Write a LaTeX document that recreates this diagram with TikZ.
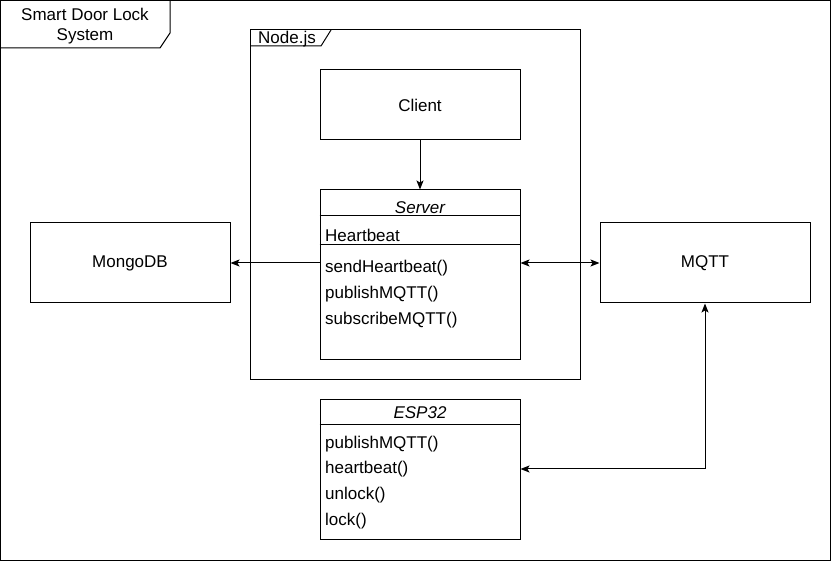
\documentclass[tikz,border=0pt]{standalone}
\usepackage{fontspec}
\setmainfont{Liberation Sans}
\usepackage{tikz}
\usetikzlibrary{arrows.meta}
\tikzstyle{line} = [draw, line width=1pt, -{Stealth[length=9pt,width=7pt,inset=2pt]}]
\tikzstyle{both} = [draw, line width=1pt, {Stealth[length=9pt,width=7pt,inset=2pt]}-{Stealth[length=9pt,width=7pt,inset=2pt]}]
\tikzstyle{box} = [draw, line width=1pt, inner sep=0pt]
\tikzstyle{op} = [anchor=west, inner sep=0pt]

\begin{document}
\begin{tikzpicture}[x=1pt,y=-1pt,font=\fontsize{17}{20}\selectfont]
    \useasboundingbox (0,0) rectangle (831,561);

    % system frame
    \draw[line width=1pt] (0.5,0.5) rectangle (830.5,560.5);
    \draw[line width=1pt] (0.5,48) -- (160,48) -- (170,33) -- (170,0.5);
    \node (SYS1) at (85,14) {Smart Door Lock};
    \node (SYS2) at (85,36) {System};

    % node.js frame
    \draw[line width=1pt] (250,30) rectangle (580,380);
    \draw[line width=1pt] (250,46) -- (321,46) -- (331,30);
    \node[anchor=west,inner sep=0pt] (NJ) at (258,39) {Node.js};

        \node[box,minimum width=200pt,minimum height=70pt] (CL) at (420,105) {Client};
        \node[box,minimum width=200pt,minimum height=80pt] (MDB) at (130,263) {MongoDB};
        \node[box,minimum width=210pt,minimum height=80pt] (MQ) at (705,263) {MQTT};

        \node[box,minimum width=200pt,minimum height=170pt] (SV) at (420,275) {};
        \node (SVh) at (420,208) {\itshape Server};
        \draw[line width=1pt] (SV.north west) ++(0,26) -- ++(200,0);
        \node[op] (hbattr) at (325,235) {Heartbeat};
        \draw[line width=1pt] (SV.north west) ++(0,55) -- ++(200,0);
        \node[op] (sendhb) at (325,268) {sendHeartbeat()};
        \node[op] (pubsv) at (325,294) {publishMQTT()};
        \node[op] (subsv) at (325,320) {subscribeMQTT()};

        \node[box,minimum width=200pt,minimum height=140pt] (ESP) at (420,470) {};
        \node (ESPh) at (420,413) {\itshape ESP32};
        \draw[line width=1pt] (ESP.north west) ++(0,25) -- ++(200,0);
        \node[op] (pubesp) at (325,444) {publishMQTT()};
        \node[op] (hb) at (325,469) {heartbeat()};
        \node[op] (unl) at (325,495) {unlock()};
        \node[op] (lck) at (325,521) {lock()};

    \draw[line] (CL.south) -- (SV.north);
    \draw[line] (SV.west |- MDB.east) -- (MDB.east);
    \draw[both] (SV.east |- MQ.west) -- (MQ.west);
    \draw[both] (MQ.south) |- (ESP.east |- hb);

\end{tikzpicture}
\end{document}
